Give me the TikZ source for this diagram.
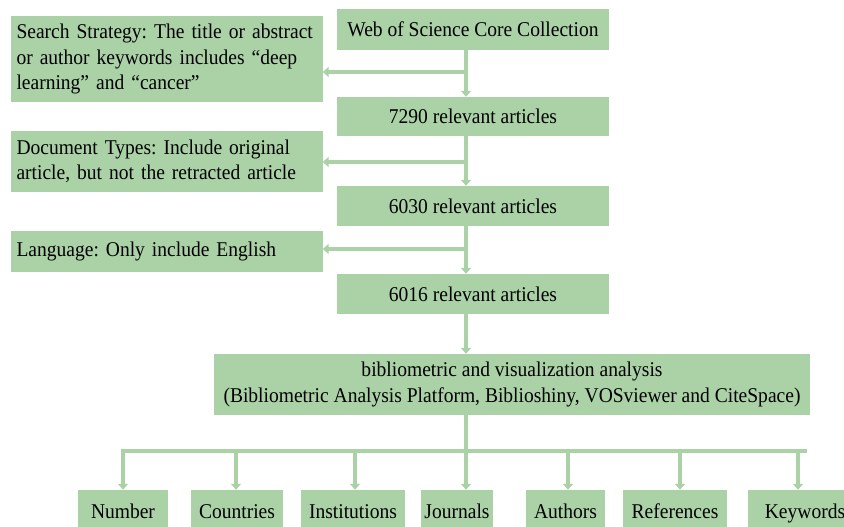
\documentclass[tikz,border=0pt]{standalone}
\usepackage{fontspec}
\setmainfont{Liberation Serif}[FakeStretch=0.93]
\usetikzlibrary{arrows.meta}
\definecolor{boxgreen}{RGB}{170,210,166}
\frenchspacing

\begin{document}
\begin{tikzpicture}[x=1pt,y=-1pt]
\tikzset{>={Triangle[width=10pt,length=6pt]}}
\tikzset{box/.style={fill=boxgreen,inner sep=0pt,font=\fontsize{21}{25.5}\selectfont}}
\tikzset{midbox/.style={box,minimum width=272pt}}
\tikzset{sidebox/.style={box,minimum width=312pt,inner xsep=6pt,text width=300pt,align=left}}
\tikzset{leafbox/.style={box,minimum height=46pt,text height=15pt,text depth=5pt}}
\tikzset{link/.style={draw=boxgreen,line width=4pt}}
\useasboundingbox (0,0) rectangle (844,527);

% main column
\node[midbox,minimum height=41pt](wos) at (473,29.5){Web of Science Core Collection};
\node[midbox,minimum height=39pt](n7290) at (473,116.5){7290 relevant articles};
\node[midbox,minimum height=40pt](n6030) at (473,206){6030 relevant articles};
\node[midbox,minimum height=40pt](n6016) at (473,294){6016 relevant articles};

% exclusion criteria
\node[sidebox,minimum height=86pt](search) at (166.5,59){Search Strategy: The title or abstract\\or author keywords includes ``deep\\learning'' and ``cancer''};
\node[sidebox,minimum height=61pt](doctype) at (166.5,161.5){Document Types: Include original\\article, but not the retracted article};
\node[sidebox,minimum height=41pt](lang) at (166.5,251.5){Language: Only include English};

\node[box,minimum width=596pt,minimum height=61pt,align=center](ana) at (512,384.5){bibliometric and visualization analysis\\(Bibliometric Analysis Platform, Biblioshiny, VOSviewer and CiteSpace)};

% outputs
\node[leafbox,minimum width=90pt](number) at (123,513){Number};
\node[leafbox,minimum width=92pt](countries) at (237,513){Countries};
\node[leafbox,minimum width=104pt](inst) at (353,513){Institutions};
\node[leafbox,minimum width=72pt](journals) at (457,513){Journals};
\node[leafbox,minimum width=79pt](authors) at (565.5,513){Authors};
\node[leafbox,minimum width=104pt](refs) at (675,513){References};
\node[leafbox,minimum width=114pt](keywords) at (805,513){Keywords};

\coordinate (sp) at (466,0);
\coordinate (b1) at (0,72);
\coordinate (b2) at (0,162);
\coordinate (b3) at (0,249);
\coordinate (bar) at (0,451);

\draw [link,->] (wos.south -| sp) -- (n7290.north -| sp);
\draw [link,->] (n7290.south -| sp) -- (n6030.north -| sp);
\draw [link,->] (n6030.south -| sp) -- (n6016.north -| sp);
\draw [link,->] (n6016.south -| sp) -- (ana.north -| sp);
\draw [link,->] (sp |- b1) -- (search.east |- b1);
\draw [link,->] (sp |- b2) -- (doctype.east |- b2);
\draw [link,->] (sp |- b3) -- (lang.east |- b3);

\draw [link] (ana.south -| sp) -- (sp |- bar);
\draw [link,line cap=rect] (number |- bar) -- (keywords.north |- bar);
\foreach \leaf/\xx in {number/123,countries/236,inst/355,journals/466,authors/568,refs/680,keywords/798}
  \draw [link,->] (\xx,451) -- (\leaf.north -| {(\xx,0)});
\end{tikzpicture}
\end{document}
